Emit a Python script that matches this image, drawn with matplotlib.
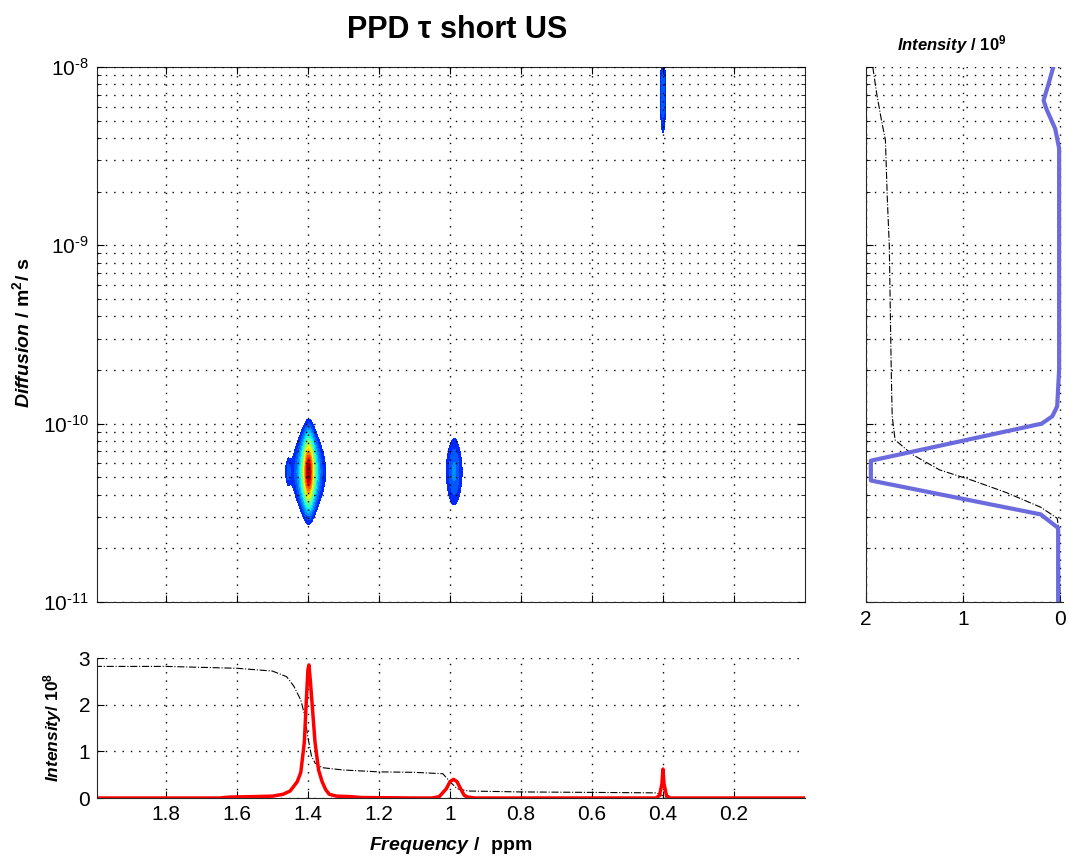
import numpy as np
import matplotlib.pyplot as plt
from matplotlib.colors import Normalize

plt.rcParams['font.family'] = 'Liberation Sans'
plt.rcParams['mathtext.fontset'] = 'custom'
plt.rcParams['mathtext.rm'] = 'Liberation Sans'
plt.rcParams['mathtext.it'] = 'Liberation Sans:italic:bold'
plt.rcParams['mathtext.bf'] = 'Liberation Sans:bold'
plt.rcParams['mathtext.default'] = 'regular'

# 1D spectrum (bottom panel), intensity in 1e8
spec_ppm = [2.00, 1.65, 1.62, 1.55, 1.50, 1.47, 1.45, 1.43, 1.42, 1.41, 1.405, 1.40,
            1.397, 1.393, 1.388, 1.38, 1.375, 1.37, 1.36, 1.35, 1.34, 1.32, 1.28,
            1.25, 1.10, 1.05, 1.03, 1.01, 1.00, 0.99, 0.98, 0.97, 0.96, 0.95, 0.93,
            0.42, 0.41, 0.403, 0.40, 0.397, 0.39, 0.38, 0.00]
spec_int = [0.0, 0.0, 0.02, 0.03, 0.04, 0.08, 0.15, 0.35, 0.55, 1.2, 2.0, 2.75,
            2.85, 2.5, 2.0, 1.2, 0.9, 0.6, 0.35, 0.18, 0.08, 0.04, 0.03,
            0.01, 0.0, 0.0, 0.03, 0.2, 0.35, 0.40, 0.35, 0.2, 0.06, 0.02, 0.0,
            0.0, 0.05, 0.3, 0.62, 0.3, 0.05, 0.0, 0.0]

# running integral drawn over the spectrum
integ_ppm = [2.0, 1.8, 1.6, 1.5, 1.46, 1.44, 1.42, 1.41, 1.40, 1.39, 1.38, 1.36,
             1.30, 1.2, 1.1, 1.02, 1.00, 0.98, 0.95, 0.8, 0.6, 0.42, 0.40, 0.39, 0.0]
integ_val = [2.82, 2.82, 2.78, 2.72, 2.6, 2.4, 2.1, 1.8, 1.3, 0.9, 0.75, 0.65,
             0.6, 0.56, 0.55, 0.52, 0.35, 0.2, 0.15, 0.13, 0.12, 0.11, 0.05, 0.01, 0.0]

# diffusion projection (right panel), intensity in 1e9
proj_D = [1e-8, 8e-9, 6.5e-9, 5.8e-9, 4.5e-9, 3.5e-9, 1e-9, 2e-10, 1.25e-10,
          1.1e-10, 1.0e-10, 6.2e-11, 4.8e-11, 3.1e-11, 2.6e-11, 1e-11]
proj_int = [0.07, 0.12, 0.17, 0.14, 0.05, 0.01, 0.01, 0.01, 0.03,
            0.08, 0.19, 1.95, 1.95, 0.2, 0.02, 0.02]

proj_integ_D = [1e-8, 7.1e-9, 5.0e-9, 3.9e-9, 1.8e-9, 1e-9, 2e-10, 1.1e-10,
                8.1e-11, 6.7e-11, 5.5e-11, 4.8e-11, 4.1e-11, 3.4e-11, 2.95e-11,
                2.5e-11, 1e-11]
proj_integ = [1.93, 1.89, 1.84, 1.80, 1.78, 1.76, 1.74, 1.73,
              1.70, 1.52, 1.24, 0.9, 0.55, 0.2, 0.03,
              0.01, 0.0]

# DOSY peaks: ppm, half width (ppm), log10 D, spread (decades), relative height
peak_ppm = [1.398, 1.455, 0.988, 0.400]
peak_hw = [0.016, 0.006, 0.021, 0.008]
peak_logd = [-10.27, -10.27, -10.27, -8.157]
peak_sd = [0.138, 0.05, 0.152, 0.18]
peak_amp = [1.0, 0.12, 0.21, 0.2]

freq_ticks = [1.8, 1.6, 1.4, 1.2, 1.0, 0.8, 0.6, 0.4, 0.2]
freq_labels = ['1.8', '1.6', '1.4', '1.2', '1', '0.8', '0.6', '0.4', '0.2']
diff_ticks = [1e-11, 1e-10, 1e-9, 1e-8]
diff_labels = [r'$10^{\text{-11}}$', r'$10^{\text{-10}}$', r'$10^{\text{-9}}$', r'$10^{\text{-8}}$']

# build the 2D map
ppm_axis = np.linspace(0, 2, 2000)
logd_axis = np.linspace(-11, -8, 600)
P, L = np.meshgrid(ppm_axis, logd_axis)
Z = np.zeros_like(P)
for p, hw, ld, sd, a in zip(peak_ppm, peak_hw, peak_logd, peak_sd, peak_amp):
    Z += a / (1 + ((P - p) / hw) ** 2) * np.exp(-0.5 * ((L - ld) / sd) ** 2)

W, H = 1069, 859
fig = plt.figure(figsize=(W / 100, H / 100), dpi=100)
ax = fig.add_axes([97 / W, 1 - 602 / H, 708 / W, 535 / H])
axr = fig.add_axes([866 / W, 1 - 602 / H, 197 / W, 535 / H])
axb = fig.add_axes([97 / W, 1 - 798 / H, 708 / W, 140 / H])

spine_c = '#262626'
grid_kw = dict(linestyle=(0, (1, 5)), color='k', linewidth=1.0)

# main 2D panel
levels = np.linspace(0.1, 1.0, 19)
ax.contourf(P, 10 ** L, Z, levels=levels, cmap='jet', norm=Normalize(-0.05, 1), extend='max')
ax.set_yscale('log')
ax.set_ylim(1e-11, 1e-8)
ax.set_xlim(1.994, 0.0)
ax.set_xticks(freq_ticks)
ax.set_xticklabels([])
ax.set_yticks(diff_ticks)
ax.set_yticklabels(diff_labels)
ax.grid(True, which='both', axis='y', **grid_kw)
ax.grid(True, which='major', axis='x', **grid_kw)
ax.set_axisbelow(False)
ax.minorticks_on()
ax.xaxis.set_minor_locator(plt.NullLocator())
ax.tick_params(which='both', direction='in', top=True, right=True, labelsize=15, pad=6)
ax.tick_params(which='major', length=5)
ax.tick_params(which='minor', length=3)
for s in ax.spines.values():
    s.set_color(spine_c)

# right projection panel
axr.plot(proj_integ, proj_integ_D, color='k', linestyle='-.', linewidth=0.8)
axr.plot(proj_int, proj_D, color='#6b6bde', linewidth=3)
axr.set_yscale('log')
axr.set_ylim(1e-11, 1e-8)
axr.set_xlim(2, -0.03)
axr.set_xticks([2, 1, 0])
axr.set_xticklabels(['2', '1', '0'])
axr.yaxis.set_major_formatter(plt.NullFormatter())
axr.yaxis.set_minor_formatter(plt.NullFormatter())
axr.grid(True, which='both', axis='y', **grid_kw)
axr.grid(True, which='major', axis='x', **grid_kw)
axr.tick_params(which='both', direction='in', labelsize=15, pad=6)
axr.tick_params(which='major', length=5)
axr.tick_params(which='minor', length=3)
axr.spines['top'].set_visible(False)
axr.spines['right'].set_visible(False)
for s in axr.spines.values():
    s.set_color(spine_c)

# bottom spectrum panel
axb.plot(integ_ppm, integ_val, color='k', linestyle='-.', linewidth=0.8)
axb.plot(spec_ppm, spec_int, color='#ff0000', linewidth=2.5)
axb.set_xlim(1.994, 0.0)
axb.set_ylim(0, 3)
axb.set_xticks(freq_ticks)
axb.set_xticklabels(freq_labels)
axb.set_yticks([0, 1, 2, 3])
axb.grid(True, **grid_kw)
axb.tick_params(direction='in', length=5, labelsize=15, pad=5)
axb.spines['top'].set_visible(False)
axb.spines['right'].set_visible(False)
for s in axb.spines.values():
    s.set_color(spine_c)

# texts
fig.text(457 / W, 1 - 30 / H, 'PPD τ short US', ha='center', va='center',
         fontsize=22, fontweight='bold')
fig.text(952 / W, 1 - 45 / H, r'$\mathit{Intensity}\ \mathbf{/\ 10^9}$',
         ha='center', va='center', fontsize=12)
fig.text(22 / W, 1 - 333 / H, r'$\mathit{Diffusion}\ \mathbf{/\ m^2/\ s}$',
         ha='center', va='center', rotation=90, fontsize=14)
fig.text(53 / W, 1 - 727 / H, r'$\mathit{Intensity}\mathbf{/\ 10^8}$',
         ha='center', va='center', rotation=90, fontsize=12.5)
fig.text(451 / W, 1 - 845 / H, r'$\mathit{Frequency}\ \mathbf{/\ \ ppm}$',
         ha='center', va='center', fontsize=14)

fig.savefig('out.png', dpi=100)
